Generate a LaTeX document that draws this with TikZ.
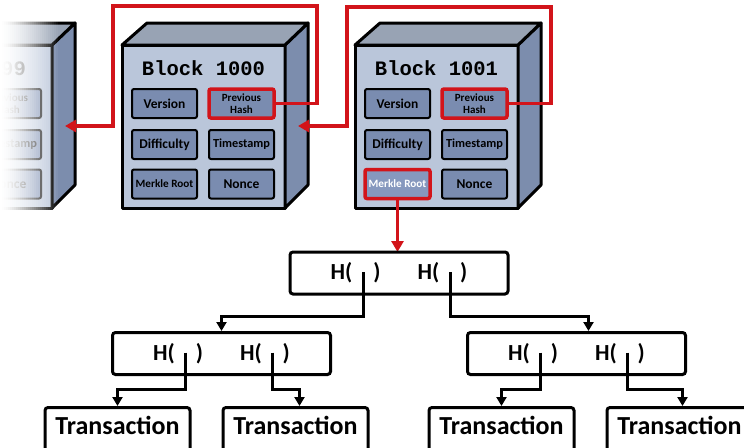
\documentclass[tikz,border=0pt]{standalone}
\usepackage{fontspec}
\setmainfont{Carlito}
\newfontfamily\monofont{Liberation Mono}
\usetikzlibrary{arrows.meta}

\definecolor{frontblue}{RGB}{186,198,218}
\definecolor{sideblue}{RGB}{124,141,173}
\definecolor{topgray}{RGB}{152,163,180}
\definecolor{fieldblue}{RGB}{122,140,176}
\definecolor{rootfill}{RGB}{134,152,190}
\definecolor{linkred}{RGB}{210,20,26}

\tikzset{
  face/.style={draw=black,line width=3pt,line join=round},
  field/.style={draw=black,line width=2pt,fill=fieldblue,rounded corners=2pt,
    minimum width=65pt,minimum height=29pt,inner sep=0pt,align=center,
    font=\bfseries\fontsize{13.5}{14}\selectfont},
  hashfield/.style={field,draw=linkred,line width=3.5pt},
  rootfield/.style={hashfield,fill=rootfill,text=white},
  hashbox/.style={draw=black,line width=3pt,rounded corners=3pt,
    minimum width=218pt,minimum height=42pt,inner sep=0pt,
    font=\bfseries\fontsize{23}{26}\selectfont},
  txbox/.style={draw=black,line width=3pt,rounded corners=3pt,anchor=north,
    minimum width=145pt,inner xsep=0pt,inner ysep=0pt,text height=27pt,text depth=19pt,
    font=\bfseries\fontsize{26}{28}\selectfont},
  link/.style={line width=3pt,-{Triangle[length=9pt,width=10pt]}},
  redlink/.style={draw=linkred,line width=3.5pt,-{Triangle[length=11pt,width=12pt]}}
}

\begin{document}
\begin{tikzpicture}[x=1pt,y=-1pt]

%\draw[step=50,gray,very thin] (0,0) grid (744,447); %background grid
\useasboundingbox (0,0) rectangle (744,447);
\clip (0,0) rectangle (744,447);

% the three blocks
\foreach \bx/\num/\phstyle/\mrstyle in {-111/999/field/field, 122/1000/hashfield/field, 355/1001/hashfield/rootfield}{
  \draw[face,fill=frontblue] (\bx,45) rectangle (\bx+163,208);
  \draw[face,fill=sideblue] (\bx+163,45) -- (\bx+186,23) -- (\bx+186,185) -- (\bx+163,208) -- cycle;
  \draw[face,fill=topgray] (\bx,45) -- (\bx+25,23) -- (\bx+186,23) -- (\bx+163,45) -- cycle;
  \node[font=\monofont\bfseries\fontsize{20.5}{22}\selectfont] (title\num) at (\bx+81.5,68) {Block \num};
  \node[field] (ver\num) at (\bx+42.5,103.5) {Version};
  \node[\phstyle,font=\bfseries\fontsize{11}{12}\selectfont] (ph\num) at (\bx+119.5,103.5) {Previous\\Hash};
  \node[field] (dif\num) at (\bx+42.5,144.5) {Difficulty};
  \node[field,font=\bfseries\fontsize{12.3}{13}\selectfont] (ts\num) at (\bx+119.5,144.5) {Timestamp};
  \node[\mrstyle,font=\bfseries\fontsize{11.2}{12}\selectfont] (mr\num) at (\bx+42.5,184) {Merkle Root};
  \node[field] (non\num) at (\bx+119.5,184) {Nonce};
  \coordinate (in\num) at (\bx+176,126);
}

% fade out the oldest block
\foreach \s [evaluate=\s as \op using 1-(\s/29)*sqrt(\s/29)] in {0,...,28}
  \fill[white,opacity=\op] (2*\s,15) rectangle (2*\s+2,215);

% hash pointers
\draw[redlink] (ph1000.east) -- (317,103.5) |- (113,6) |- (in999);
\draw[redlink] (ph1001.east) -- (551,103.5) |- (347,7) |- (in1000);
\draw[redlink] (mr1001.south) -- (mr1001.south |- 0,252);

% merkle tree
\node[hashbox] (root) at (399,273) {H(\hspace{21pt})\hspace{37pt}H(\hspace{21pt})};
\node[hashbox] (hl) at (221.5,353.5) {H(\hspace{21pt})\hspace{37pt}H(\hspace{21pt})};
\node[hashbox] (hr) at (576.5,353.5) {H(\hspace{21pt})\hspace{37pt}H(\hspace{21pt})};

\node[txbox] (tx1) at (117.5,406) {Transaction};
\node[txbox] (tx2) at (295.5,406) {Transaction};
\node[txbox] (tx3) at (501.5,406) {Transaction};
\node[txbox] (tx4) at (679.5,406) {Transaction};

\foreach \h in {root,hl,hr}{
  \coordinate (\h a) at ([xshift=-36pt,yshift=1pt]\h.center);
  \coordinate (\h b) at ([xshift=51pt,yshift=1pt]\h.center);
}

\draw[link] (roota) -- ++(0,44) -| (hl.north);
\draw[link] (rootb) -- ++(0,44) -| ([xshift=12pt]hr.north);
\draw[link] (hla) -- ++(0,37) -| (tx1.north);
\draw[link] (hlb) -- ++(0,37) -| ([xshift=4pt]tx2.north);
\draw[link] (hra) -- ++(0,37) -| (tx3.north);
\draw[link] (hrb) -- ++(0,37) -| ([xshift=3pt]tx4.north);

\end{tikzpicture}
\end{document}
